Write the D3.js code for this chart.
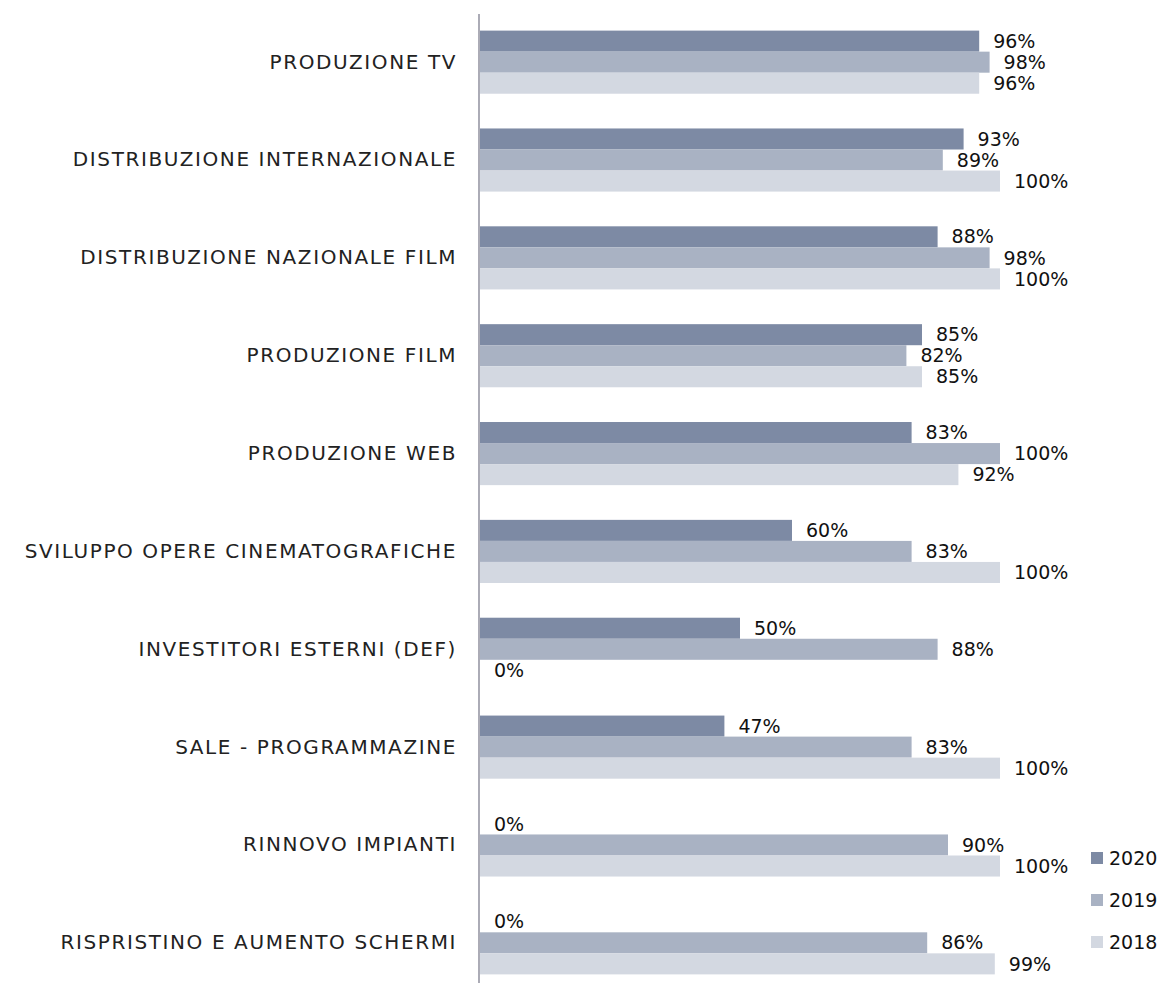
<!DOCTYPE html>
<html>
<head>
<meta charset="utf-8">
<script src="https://cdn.jsdelivr.net/npm/d3@7"></script>
<style>
  body { margin: 0; background: #fff; }
  svg { display: block; font-family: "Century Gothic", "URW Gothic", "DejaVu Sans", sans-serif; }
</style>
</head>
<body>
<svg id="chart" width="1165" height="983"></svg>
<script>
var categories = [
	'PRODUZIONE TV',
	'DISTRIBUZIONE INTERNAZIONALE',
	'DISTRIBUZIONE NAZIONALE FILM',
	'PRODUZIONE FILM',
	'PRODUZIONE WEB',
	'SVILUPPO OPERE CINEMATOGRAFICHE',
	'INVESTITORI ESTERNI (DEF)',
	'SALE - PROGRAMMAZINE',
	'RINNOVO IMPIANTI',
	'RISPRISTINO E AUMENTO SCHERMI'
];
var years = ['2020', '2019', '2018'];
var values_2020 = [96, 93, 88, 85, 83, 60, 50, 47, 0, 0];
var values_2019 = [98, 89, 98, 82, 100, 83, 88, 83, 90, 86];
var values_2018 = [96, 100, 100, 85, 92, 100, 0, 100, 100, 99];
var colors = ['#7d8aa4', '#a9b2c3', '#d3d8e1'];

var series = [values_2020, values_2019, values_2018];

var svg = d3.select('#chart');

var x = d3.scaleLinear().domain([0, 100]).range([480, 1000]);
var y = d3.scaleBand().domain(categories).range([13, 992]).paddingInner(0.355).paddingOuter(0.18);
var ySub = d3.scaleBand().domain(years).range([0, y.bandwidth()]);

var data = [];
categories.forEach(function(c, i) {
	years.forEach(function(yr, j) {
		data.push({ cat: c, year: yr, value: series[j][i], color: colors[j] });
	});
});

var groups = svg.append('g').attr('id', 'bars');

groups.selectAll('rect')
	.data(data)
	.enter()
	.append('rect')
		.attr('x', x(0))
		.attr('y', function(d) { return y(d.cat) + ySub(d.year); })
		.attr('width', function(d) { return x(d.value) - x(0); })
		.attr('height', ySub.bandwidth())
		.attr('fill', function(d) { return d.color; });

groups.selectAll('text')
	.data(data)
	.enter()
	.append('text')
		.attr('x', function(d) { return x(d.value) + 14; })
		.attr('y', function(d) { return y(d.cat) + ySub(d.year) + ySub.bandwidth() / 2; })
		.attr('dy', '0.35em')
		.attr('font-size', 19)
		.attr('fill', '#111')
		.text(function(d) { return d.value + '%'; });

// category axis on the left
var axis = d3.axisLeft(y).tickSize(0).tickPadding(22);
var gAxis = svg.append('g')
	.attr('transform', 'translate(479,0)')
	.call(axis);
gAxis.attr('font-family', null).attr('font-size', null);
gAxis.select('.domain').attr('stroke', '#7f7f8f').attr('stroke-width', 1.3).attr('d', 'M0,14V985');
gAxis.selectAll('text')
	.attr('font-size', 20)
	.attr('letter-spacing', 1.6)
	.attr('fill', '#222');

// legend
var legend = svg.append('g').attr('id', 'legend');
years.forEach(function(yr, j) {
	var ly = 858 + j * 42;
	legend.append('rect')
		.attr('x', 1091).attr('y', ly - 6)
		.attr('width', 12).attr('height', 12)
		.attr('fill', colors[j]);
	legend.append('text')
		.attr('x', 1109).attr('y', ly)
		.attr('dy', '0.35em')
		.attr('font-size', 19)
		.attr('fill', '#111')
		.text(yr);
});
</script>
</body>
</html>
